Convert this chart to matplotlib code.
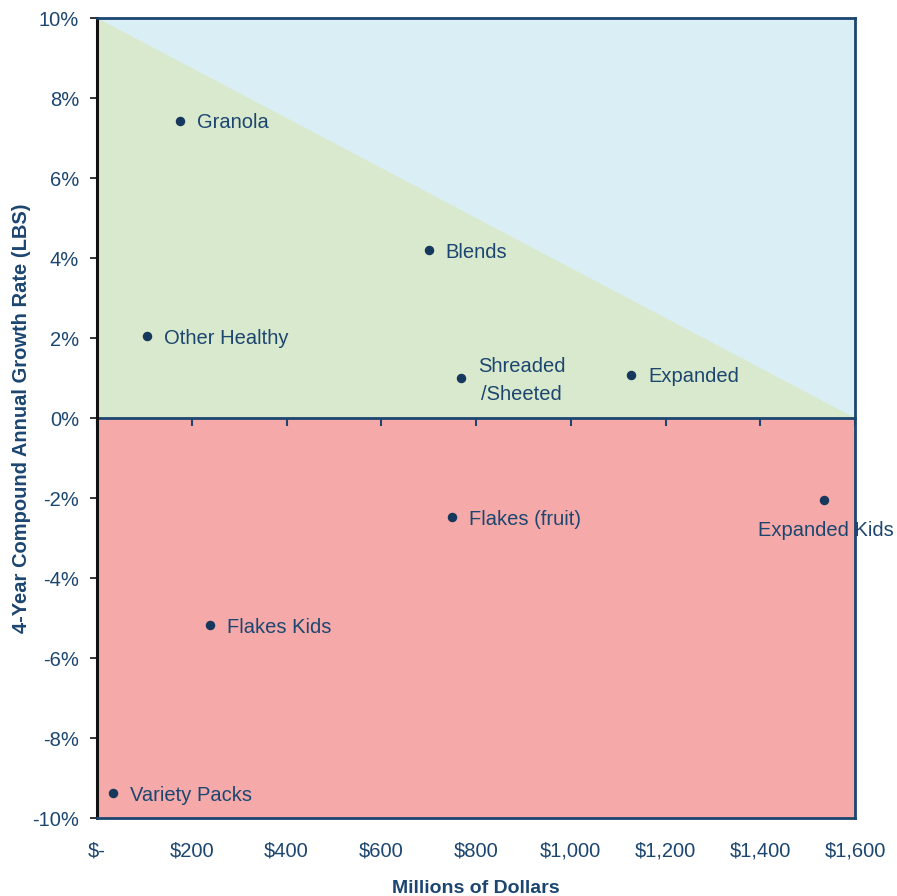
import matplotlib
matplotlib.use("Agg")
import matplotlib.pyplot as plt
from matplotlib.ticker import FuncFormatter

plt.rcParams['font.family'] = ['Liberation Sans', 'DejaVu Sans']

# segment, sales ($M), 4-yr CAGR (%)
SEGMENTS = ["Granola", "Blends", "Other Healthy", "Shreaded\n/Sheeted", "Expanded",
            "Flakes (fruit)", "Expanded Kids", "Flakes Kids", "Variety Packs"]
SALES = [175, 700, 105, 768, 1127, 749, 1534, 238, 34]
GROWTH = [7.43, 4.2, 2.05, 1.0, 1.08, -2.48, -2.05, -5.18, -9.38]

X_MIN, X_MAX = 0, 1600
Y_MIN, Y_MAX = -10, 10
X_TICKS = list(range(0, 1601, 200))
Y_TICKS = list(range(-10, 11, 2))

BLUE_TXT = "#1C4670"
DOT = "#16385C"
GREEN = "#D9E9CD"
SKY = "#DAEFF5"
RED = "#F6A9A9"
FS = 14.5


def money(v, pos):
    if v == 0:
        return "$-"
    return f"${v:,.0f}"


fig = plt.figure(figsize=(8.97, 8.96), dpi=100)
ax = fig.add_axes([97 / 897, 78 / 896, 758 / 897, 800 / 896])
ax.set_xlim(X_MIN, X_MAX)
ax.set_ylim(Y_MIN, Y_MAX)

# background zones
ax.axhspan(0, Y_MAX, color=SKY, lw=0, zorder=0)
ax.fill([X_MIN, X_MAX, X_MIN], [Y_MAX, 0, 0], color=GREEN, lw=0, zorder=0)
ax.axhspan(Y_MIN, 0, color=RED, lw=0, zorder=0)

ax.scatter(SALES, GROWTH, s=34, color=DOT, zorder=3)

for name, x, y in zip(SEGMENTS, SALES, GROWTH):
    if name == "Expanded Kids":
        ax.annotate(name, (x, y), xytext=(2, -31), textcoords="offset pixels",
                    ha="center", va="center", fontsize=FS, color=BLUE_TXT)
    else:
        ax.annotate(name, (x, y), xytext=(17, -2), textcoords="offset pixels",
                    ha="left", va="center", fontsize=FS, color=BLUE_TXT,
                    multialignment="center", linespacing=1.6)

# axes frame
for side in ["top", "right", "bottom"]:
    ax.spines[side].set_color(BLUE_TXT)
    ax.spines[side].set_linewidth(2)
ax.spines["left"].set_color("#111111")
ax.spines["left"].set_linewidth(2.2)

ax.set_yticks(Y_TICKS)
ax.yaxis.set_major_formatter(FuncFormatter(lambda v, p: f"{v:.0f}%"))
ax.tick_params(axis="y", direction="out", length=5, width=1.2, color="#111111",
               labelsize=FS, labelcolor=BLUE_TXT, pad=8)

ax.set_xticks(X_TICKS)
ax.xaxis.set_major_formatter(FuncFormatter(money))
ax.tick_params(axis="x", length=0, labelsize=FS, labelcolor=BLUE_TXT, pad=17)

# zero line carries the x ticks
zero = ax.secondary_xaxis(0.5)
zero.set_alignment("bottom")
zero.set_xticks(X_TICKS)
zero.tick_params(axis="x", direction="out", length=6, width=1.5, color=BLUE_TXT,
                 labelbottom=False, labeltop=False)
zero.spines["bottom"].set_color(BLUE_TXT)
zero.spines["bottom"].set_linewidth(2)

ax.set_xlabel("Millions of Dollars", fontsize=14, fontweight="bold",
              color=BLUE_TXT, labelpad=14)
ax.set_ylabel("4-Year Compound Annual Growth Rate (LBS)", fontsize=14.5,
              fontweight="bold", color=BLUE_TXT, labelpad=1)

fig.savefig("out.png", dpi=100)
